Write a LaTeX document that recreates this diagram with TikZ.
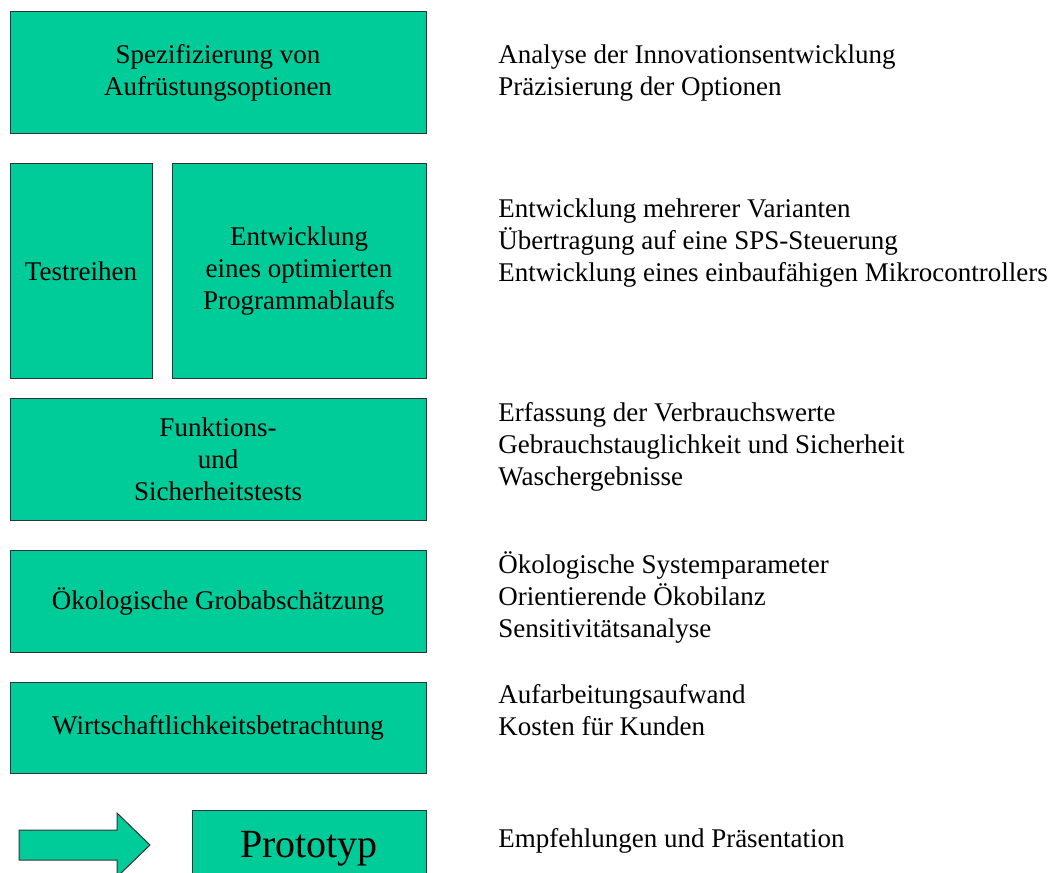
\documentclass[tikz,border=0pt]{standalone}
\usepackage{fontspec}
\setmainfont{Liberation Serif}
\usepackage{xcolor}
\usetikzlibrary{positioning}
\definecolor{mint}{HTML}{00CC99}
\definecolor{edge}{HTML}{333333}

\begin{document}
\begin{tikzpicture}[every node/.style={font=\fontsize{20.25}{24}\selectfont},
    stage/.style={draw=edge,fill=mint,line width=.75pt,inner sep=0pt,outer sep=0pt,minimum width=312pt,align=center},
    note/.style={inner sep=0pt,anchor=north west,align=left}]
    \useasboundingbox (0,0) rectangle (791.25pt,-654.75pt);
    \clip (0,0) rectangle (791.25pt,-654.75pt);
    % left column
    \node[stage,minimum height=91.5pt,anchor=north west] (spec) at (7.5pt,-9pt) {Spezifizierung von\\Aufrüstungsoptionen};
    \node[stage,minimum width=106.5pt,minimum height=160.5pt,below right=22.5pt and 0pt of spec.south west] (test) {Testreihen};
    \node[stage,minimum width=190.5pt,minimum height=160.5pt,right=15pt of test] (prog) {Entwicklung\\eines optimierten\\Programmablaufs};
    \node[stage,minimum height=91.5pt,below right=15pt and 0pt of test.south west] (funk) {Funktions-\\und\\Sicherheitstests};
    \node[stage,minimum height=76.5pt,below=22.5pt of funk] (oeko) {Ökologische Grobabschätzung};
    \node[stage,minimum height=68.25pt,below=22.5pt of oeko] (wirt) {Wirtschaftlichkeitsbetrachtung};
    \node[stage,minimum width=175.5pt,minimum height=58.5pt,font=\fontsize{30}{36}\selectfont,below left=27.75pt and 0pt of wirt.south east] (proto) {Prototyp};
    \draw[draw=edge,fill=mint,line width=.75pt] (14.25pt,-622.5pt) -- (87.75pt,-622.5pt) -- (87.75pt,-609.75pt)
      -- (112.5pt,-633.75pt) -- (87.75pt,-657.75pt) -- (87.75pt,-645pt) -- (14.25pt,-645pt) -- cycle;
    % right column
    \node[note] (n1) at (373.5pt,-30.45pt) {\strut Analyse der Innovationsentwicklung\\Präzisierung der Optionen};
    \node[note] (n2) at (373.5pt,-145.95pt) {\strut Entwicklung mehrerer Varianten\\Übertragung auf eine SPS-Steuerung\\Entwicklung eines einbaufähigen Mikrocontrollers};
    \node[note] (n3) at (373.5pt,-298.95pt) {\strut Erfassung der Verbrauchswerte\\Gebrauchstauglichkeit und Sicherheit\\Waschergebnisse};
    \node[note] (n4) at (373.5pt,-412.95pt) {\strut Ökologische Systemparameter\\Orientierende Ökobilanz\\Sensitivitätsanalyse};
    \node[note] (n5) at (373.5pt,-510.45pt) {\strut Aufarbeitungsaufwand\\Kosten für Kunden};
    \node[note] (n6) at (373.5pt,-618.45pt) {\strut Empfehlungen und Präsentation};
  \end{tikzpicture}
\end{document}
